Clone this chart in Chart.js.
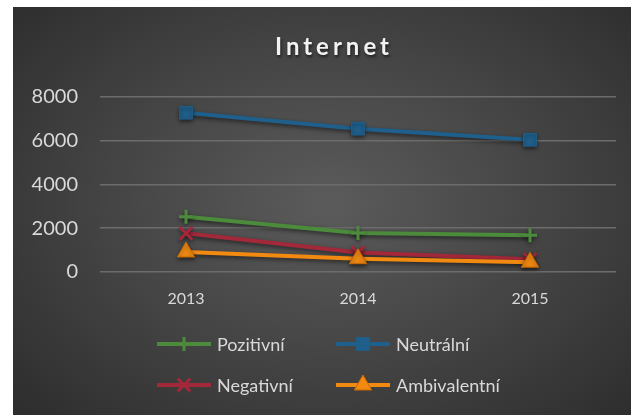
<!DOCTYPE html>
<html lang="cs">
<head>
    <meta charset="UTF-8">
    <title>Internet</title>
    <script src="https://cdn.jsdelivr.net/npm/chart.js"></script>
    <style>
        body {
            margin: 0;
            background: #ffffff;
            width: 631px;
            height: 415px;
            overflow: hidden;
        }
        .card {
            position: absolute;
            left: 13px;
            top: 7px;
            width: 618px;
            height: 408px;
            background: radial-gradient(ellipse 70% 75% at 51% 48%, #5b5b5b 0%, #474747 45%, #2d2d2d 100%);
        }
        .title {
            position: absolute;
            left: 12px;
            width: 100%;
            top: 27px;
            text-align: center;
            font-family: Lato, sans-serif;
            font-weight: 700;
            font-size: 24px;
            line-height: 24px;
            letter-spacing: 4px;
            color: #f2f2f2;
            text-shadow: 1px 2px 3px rgba(0,0,0,0.6);
        }
        .legend-item {
            position: absolute;
            display: flex;
            align-items: center;
            font-family: Lato, sans-serif;
            font-size: 18px;
            color: #d9d9d9;
        }
        .legend-item canvas { margin-right: 4px; }
    </style>
</head>
<body>
    <div class="card">
        <canvas id="chart" width="618" height="408"></canvas>
        <div class="title">Internet</div>
        <div id="legend"></div>
    </div>

    <script>
        // Data
        const years = ['2013', '2014', '2015'];
        const pozitivni = [2520, 1775, 1675];
        const neutralni = [7280, 6550, 6040];
        const negativni = [1760, 880, 570];
        const ambivalentni = [905, 600, 440];
        const yTicks = [0, 2000, 4000, 6000, 8000];

        const series = [
            { label: 'Pozitivní', data: pozitivni, color: '#4b8b3b', style: 'cross', radius: 7, order: 2 },
            { label: 'Neutrální', data: neutralni, color: '#1f5f8b', style: 'rect', radius: 9, order: 3 },
            { label: 'Negativní', data: negativni, color: '#a2283a', style: 'crossRot', radius: 9, order: 1 },
            { label: 'Ambivalentní', data: ambivalentni, color: '#f28a12', style: 'triangle', radius: 10, order: 0 }
        ];

        // soft shadow under lines like the office chart style
        const shadowPlugin = {
            id: 'shadow',
            beforeDatasetDraw(chart) {
                const ctx = chart.ctx;
                ctx.save();
                ctx.shadowColor = 'rgba(0,0,0,0.55)';
                ctx.shadowBlur = 4;
                ctx.shadowOffsetY = 2;
            },
            afterDatasetDraw(chart) {
                chart.ctx.restore();
            }
        };

        const chart = new Chart(document.getElementById('chart'), {
            type: 'line',
            data: {
                labels: years,
                datasets: series.map(s => ({
                    label: s.label,
                    data: s.data,
                    order: s.order,
                    borderColor: s.color,
                    backgroundColor: s.color,
                    borderWidth: 4,
                    pointStyle: s.style,
                    pointRadius: s.radius,
                    pointBorderWidth: (s.style === 'cross' || s.style === 'crossRot') ? 3 : 1,
                    pointBorderColor: s.style === 'triangle' ? '#c86a05' : s.color,
                    pointBackgroundColor: s.color,
                    tension: 0
                }))
            },
            options: {
                responsive: false,
                animation: false,
                layout: { padding: { top: 90, right: 15, bottom: 98, left: 0 } },
                plugins: {
                    legend: { display: false },
                    title: { display: false },
                    tooltip: { enabled: false }
                },
                scales: {
                    x: {
                        offset: true,
                        grid: { display: false },
                        border: { display: false },
                        ticks: {
                            color: '#d9d9d9',
                            padding: 9,
                            font: { family: 'Lato', size: 16 }
                        }
                    },
                    y: {
                        min: 0,
                        max: 8000,
                        afterFit(scale) { scale.width = 87; },
                        afterBuildTicks(scale) { scale.ticks = yTicks.map(v => ({ value: v })); },
                        grid: { color: '#6c6c6c', lineWidth: 1.5, drawTicks: false },
                        border: { display: false },
                        ticks: {
                            color: '#d9d9d9',
                            padding: 22,
                            font: { family: 'Lato', size: 20 },
                            callback: v => String(v)
                        }
                    }
                }
            },
            plugins: [shadowPlugin]
        });

        // Legend: two columns, line + marker symbol
        const legendPos = [[144, 326], [323, 326], [144, 367], [323, 367]];
        const legendEl = document.getElementById('legend');
        series.forEach((s, i) => {
            const item = document.createElement('div');
            item.className = 'legend-item';
            item.style.left = legendPos[i][0] + 'px';
            item.style.top = legendPos[i][1] + 'px';
            const c = document.createElement('canvas');
            c.width = 56; c.height = 22;
            const ctx = c.getContext('2d');
            ctx.strokeStyle = s.color;
            ctx.lineWidth = 4;
            ctx.beginPath();
            ctx.moveTo(0, 11); ctx.lineTo(54, 11);
            ctx.stroke();
            ctx.fillStyle = s.color;
            ctx.strokeStyle = s.style === 'triangle' ? '#c86a05' : s.color;
            ctx.lineWidth = (s.style === 'cross' || s.style === 'crossRot') ? 3 : 1;
            Chart.helpers.drawPoint(ctx, { pointStyle: s.style, radius: s.radius, rotation: 0, borderWidth: ctx.lineWidth }, 27, 11);
            item.appendChild(c);
            const t = document.createElement('span');
            t.textContent = s.label;
            item.appendChild(t);
            legendEl.appendChild(item);
        });
    </script>
</body>
</html>
